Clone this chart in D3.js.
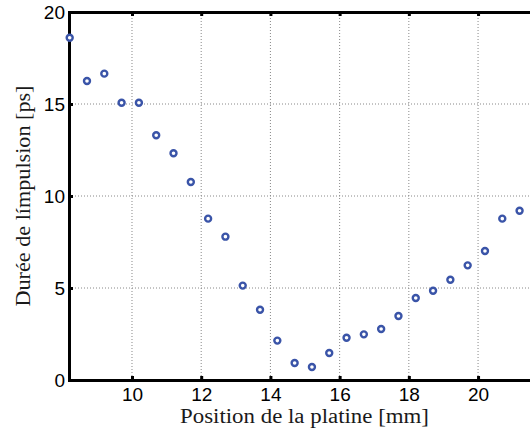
<!DOCTYPE html>
<html><head><meta charset="utf-8">
<script src="https://cdn.jsdelivr.net/npm/d3@7"></script>
<style>body{margin:0;background:#fff}svg{display:block}
.lab{font-family:"Liberation Serif","DejaVu Serif",serif;fill:#1a1a1a}
.tk text{font-family:"Liberation Sans",Arial,sans-serif;font-size:19px;fill:#000}
</style>
</head><body>
<svg id="c" width="530" height="432"></svg>
<script>
const positions = [8.2,8.7,9.2,9.7,10.2,10.7,11.2,11.7,12.2,12.7,13.2,13.7,14.2,14.7,15.2,15.7,16.2,16.7,17.2,17.7,18.2,18.7,19.2,19.7,20.2,20.7,21.2];
const durations = [18.6,16.25,16.65,15.07,15.07,13.3,12.32,10.76,8.77,7.79,5.13,3.82,2.14,0.92,0.71,1.47,2.30,2.48,2.77,3.48,4.46,4.85,5.45,6.23,7.01,8.77,9.2];
const xTicks = [10,12,14,16,18,20];
const yTicks = [0,5,10,15,20];
const xLabel = "Position de la platine [mm]";
const yLabel = "Durée de límpulsion [ps]";

const svg = d3.select("#c");
const L = 69, R = 540, T = 12, B = 380;
const x = d3.scaleLinear().domain([8.18, 21.79]).range([L, R]);
const y = d3.scaleLinear().domain([0, 20]).range([B, T]);

// grid
const g = svg.append("g");
g.selectAll("line.gx").data(xTicks).join("line")
  .attr("x1", d => x(d)).attr("x2", d => x(d)).attr("y1", T).attr("y2", B)
  .attr("stroke", "#888").attr("stroke-width", 1).attr("stroke-dasharray", "1,2");
g.selectAll("line.gy").data(yTicks.filter(d => d > 0 && d < 20)).join("line")
  .attr("x1", L).attr("x2", R).attr("y1", d => y(d)).attr("y2", d => y(d))
  .attr("stroke", "#888").attr("stroke-width", 1).attr("stroke-dasharray", "1,2");

// axes
const xa = svg.append("g").attr("class", "tk").attr("transform", `translate(0,${B})`)
  .call(d3.axisBottom(x).tickValues(xTicks).tickSize(-4).tickPadding(8).tickFormat(d3.format("d")));
const xt = svg.append("g").attr("class", "tk").attr("transform", `translate(0,${T})`)
  .call(d3.axisTop(x).tickValues(xTicks).tickSize(-4).tickFormat(""));
const ya = svg.append("g").attr("class", "tk").attr("transform", `translate(${L},0)`)
  .call(d3.axisLeft(y).tickValues(yTicks).tickSize(-4).tickPadding(4).tickFormat(d3.format("d")));
[xa, xt, ya].forEach(a => {
  a.attr("font-family", null).attr("font-size", null);
  a.select(".domain").attr("stroke", "#000").attr("stroke-width", 3);
  a.selectAll(".tick line").attr("stroke", "#000").attr("stroke-width", 3);
  a.selectAll("text").attr("fill", "#000");
});
ya.selectAll("text").attr("dy", "0.36em");

// points
svg.append("g").selectAll("circle").data(positions.map((p, i) => [p, durations[i]])).join("circle")
  .attr("cx", d => x(d[0])).attr("cy", d => y(d[1])).attr("r", 3)
  .attr("fill", "#fff").attr("stroke", "#3a54a8").attr("stroke-width", 2.4);

// labels
svg.append("text").attr("class", "lab").attr("x", (L + R) / 2).attr("y", 423).attr("text-anchor", "middle")
  .style("font-size", "20.5px")
  .attr("textLength", 249).attr("lengthAdjust", "spacingAndGlyphs").text(xLabel);
svg.append("text").attr("class", "lab").attr("transform", `translate(29.5,${(T + B) / 2}) rotate(-90)`).attr("text-anchor", "middle")
  .style("font-size", "21px")
  .attr("textLength", 221).attr("lengthAdjust", "spacingAndGlyphs").text(yLabel);
</script>
</body></html>
